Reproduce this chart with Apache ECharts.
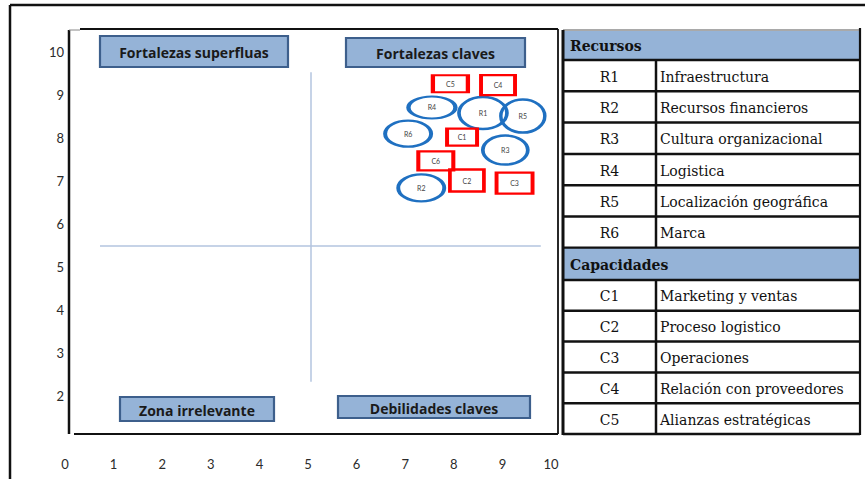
<!DOCTYPE html>
<html>
<head>
<meta charset="utf-8">
<script src="https://cdn.jsdelivr.net/npm/echarts@6/dist/echarts.min.js"></script>
<style>
  html, body { margin: 0; padding: 0; background: #ffffff; }
  #chart { width: 865px; height: 479px; }
</style>
</head>
<body>
<div id="chart"></div>
<script>
// Recursos (ellipses) and capacidades (rectangles), position on the 0-10 matrix
const resourceLabels = ['R1', 'R2', 'R3', 'R4', 'R5', 'R6'];
const resourceX = [8.60, 7.33, 9.06, 7.55, 9.42, 7.06];
const resourceY = [8.58, 6.84, 7.72, 8.71, 8.51, 8.10];

const capabilityLabels = ['C1', 'C2', 'C3', 'C4', 'C5', 'C6'];
const capabilityX = [8.17, 8.27, 9.25, 8.91, 7.93, 7.63];
const capabilityY = [8.02, 7.01, 6.95, 9.23, 9.26, 7.47];

// Legend table contents
const resourceNames = ['Infraestructura', 'Recursos financieros', 'Cultura organizacional',
  'Logistica', 'Localización geográfica', 'Marca'];
const capabilityNames = ['Marketing y ventas', 'Proceso logistico', 'Operaciones',
  'Relación con proveedores', 'Alianzas estratégicas'];
const tableHeaders = ['Recursos', 'Capacidades'];

// Quadrant titles
const quadrantNames = ['Fortalezas superfluas', 'Fortalezas claves', 'Zona irrelevante', 'Debilidades claves'];

// Quadrant dividers: x = 5.05 and y = 5.49
const dividerX = 5.05, dividerY = 5.49;

// ---- styling (sizes of individual markers in px) ----
const ellipseSize = { R1: [48, 32], R2: [46, 27], R3: [45, 29], R4: [47, 22], R5: [44, 33], R6: [46, 26] };
const rectSize = { C1: [30, 17], C2: [34, 22], C3: [36, 21], C4: [34, 20], C5: [35, 17], C6: [35, 19] };
const BLUE = '#1f70c1';
const RED = '#ff0000';
const QUAD_FILL = '#95b3d7';
const QUAD_EDGE = '#3d5f8c';

const chart = echarts.init(document.getElementById('chart'), null, { renderer: 'svg' });

const resourceData = resourceLabels.map((n, i) => ({ name: n, value: [resourceX[i], resourceY[i]] }));
const capabilityData = capabilityLabels.map((n, i) => ({ name: n, value: [capabilityX[i], capabilityY[i]] }));

const markerLabel = {
  show: true, position: 'inside', formatter: '{b}',
  fontFamily: 'Lato', fontSize: 7, color: '#444444'
};

// ---- graphic: frames, quadrant titles, legend table ----
const graphics = [];

// outer frame
graphics.push({ type: 'line', shape: { x1: 10, y1: 5, x2: 865, y2: 5 }, style: { stroke: '#111', lineWidth: 2.5 }, silent: true });
graphics.push({ type: 'line', shape: { x1: 10, y1: 5, x2: 10, y2: 479 }, style: { stroke: '#111', lineWidth: 2.5 }, silent: true });

// plot frame
graphics.push({ type: 'line', shape: { x1: 69, y1: 30, x2: 69, y2: 434 }, style: { stroke: '#111', lineWidth: 2.5 }, silent: true });
graphics.push({ type: 'line', shape: { x1: 80, y1: 29, x2: 558, y2: 29 }, style: { stroke: '#111', lineWidth: 1.8 }, silent: true });
graphics.push({ type: 'line', shape: { x1: 69, y1: 30, x2: 80, y2: 30 }, style: { stroke: '#888', lineWidth: 1 }, silent: true });
graphics.push({ type: 'line', shape: { x1: 558, y1: 29, x2: 558, y2: 434 }, style: { stroke: '#111', lineWidth: 1.8 }, silent: true });
graphics.push({ type: 'line', shape: { x1: 74, y1: 434, x2: 558, y2: 434 }, style: { stroke: '#111', lineWidth: 2.2 }, silent: true });

// quadrant title boxes
const quadBoxes = [
  { x: 100, y: 36, w: 188, h: 31 },
  { x: 346, y: 38, w: 179, h: 29 },
  { x: 120, y: 397, w: 154, h: 24 },
  { x: 338, y: 396, w: 192, h: 22 }
];
quadBoxes.forEach((b, i) => {
  graphics.push({
    type: 'group', silent: true,
    children: [
      { type: 'rect', shape: { x: b.x, y: b.y, width: b.w, height: b.h },
        style: { fill: QUAD_FILL, stroke: QUAD_EDGE, lineWidth: 2.2 } },
      { type: 'text', x: b.x + b.w / 2, y: b.y + b.h / 2 + 1,
        style: { text: quadrantNames[i], fill: '#1a1a1a', font: 'bold 14px "Open Sans"',
          align: 'center', verticalAlign: 'middle' } }
    ]
  });
});

// legend table
const T = { left: 563, mid: 656, right: 860, top: 30 };
const SERIF = '14px "DejaVu Serif"';
const SERIF_B = 'bold 14px "DejaVu Serif"';
function hLine(y) {
  graphics.push({ type: 'line', shape: { x1: T.left, y1: y, x2: T.right, y2: y },
    style: { stroke: '#111', lineWidth: 2.5 }, silent: true });
}
function section(top, headerBottom, rowH, codes, names, header) {
  graphics.push({ type: 'rect', shape: { x: T.left + 1, y: top + 1, width: T.right - T.left - 2, height: headerBottom - top - 2 },
    style: { fill: QUAD_FILL }, silent: true });
  graphics.push({ type: 'text', x: T.left + 7, y: (top + headerBottom) / 2 + 1,
    style: { text: header, font: SERIF_B, fill: '#111', verticalAlign: 'middle' }, silent: true });
  hLine(headerBottom);
  names.forEach((nm, i) => {
    const y0 = headerBottom + rowH * i, y1 = y0 + rowH;
    graphics.push({ type: 'text', x: (T.left + T.mid) / 2, y: (y0 + y1) / 2 + 1,
      style: { text: codes[i], font: SERIF, fill: '#111', align: 'center', verticalAlign: 'middle' }, silent: true });
    graphics.push({ type: 'text', x: T.mid + 4, y: (y0 + y1) / 2 + 1,
      style: { text: nm, font: SERIF, fill: '#111', verticalAlign: 'middle' }, silent: true });
    hLine(y1);
  });
  graphics.push({ type: 'line', shape: { x1: T.mid, y1: headerBottom, x2: T.mid, y2: headerBottom + rowH * names.length },
    style: { stroke: '#111', lineWidth: 2.5 }, silent: true });
}
graphics.push({ type: 'line', shape: { x1: T.left, y1: T.top, x2: T.right, y2: T.top },
  style: { stroke: '#555', lineWidth: 1.2 }, silent: true });
section(T.top, 60, 31.3, resourceLabels, resourceNames, tableHeaders[0]);
section(247.8, 280, 30.8, capabilityLabels, capabilityNames, tableHeaders[1]);
graphics.push({ type: 'line', shape: { x1: T.left, y1: T.top, x2: T.left, y2: 435 },
  style: { stroke: '#111', lineWidth: 3 }, silent: true });
graphics.push({ type: 'line', shape: { x1: T.right, y1: 28, x2: T.right, y2: 435 },
  style: { stroke: '#111', lineWidth: 2.2 }, silent: true });

const option = {
  backgroundColor: '#ffffff',
  animation: false,
  grid: { left: 65, right: 314, top: 52, bottom: 40 },
  xAxis: {
    type: 'value', min: 0, max: 10, interval: 1,
    axisLine: { show: false }, axisTick: { show: false }, splitLine: { show: false },
    axisLabel: { margin: 18, fontFamily: 'Lato', fontSize: 13, color: '#2b2b2b' }
  },
  yAxis: {
    type: 'value', min: 1, max: 10, interval: 1,
    axisLine: { show: false }, axisTick: { show: false }, splitLine: { show: false },
    axisLabel: { margin: 1, fontFamily: 'Lato', fontSize: 13, color: '#2b2b2b',
      formatter: v => (v === 1 ? '' : String(v)) }
  },
  graphic: graphics,
  series: [
    {
      name: 'Recursos', type: 'scatter', z: 3,
      symbol: 'path://M0,50A50,50 0 1,1 100,50A50,50 0 1,1 0,50Z',
      symbolSize: (val, p) => ellipseSize[p.name],
      itemStyle: { color: 'rgba(255,255,255,0)', borderColor: BLUE, borderWidth: 3, opacity: 1 },
      label: markerLabel,
      data: resourceData,
      markLine: {
        silent: true, symbol: 'none', animation: false,
        label: { show: false },
        lineStyle: { color: '#b3c5df', width: 1.5, type: 'solid' },
        data: [
          [{ coord: [dividerX, 2.33] }, { coord: [dividerX, 9.53] }],
          [{ coord: [0.72, dividerY] }, { coord: [9.79, dividerY] }]
        ]
      }
    },
    {
      name: 'Capacidades', type: 'scatter', z: 4,
      symbol: 'rect',
      symbolSize: (val, p) => rectSize[p.name],
      itemStyle: { color: 'rgba(255,255,255,0)', borderColor: RED, borderWidth: 3, opacity: 1 },
      label: markerLabel,
      data: capabilityData
    }
  ]
};
chart.setOption(option);
</script>
</body>
</html>
